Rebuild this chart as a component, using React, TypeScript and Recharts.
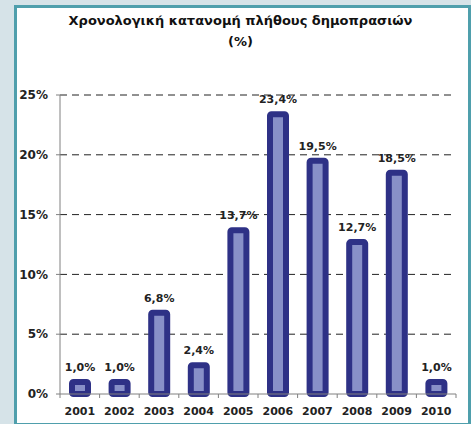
import React from "react";
import { BarChart, Bar, XAxis, YAxis, CartesianGrid, LabelList } from "recharts";

const years = ["2001", "2002", "2003", "2004", "2005", "2006", "2007", "2008", "2009", "2010"];
const shares = [1.0, 1.0, 6.8, 2.4, 13.7, 23.4, 19.5, 12.7, 18.5, 1.0];
const yTicks = [0, 5, 10, 15, 20, 25];
const titleLines = ["Χρονολογική κατανομή πλήθους δημοπρασιών", "(%)"];

const data = years.map((y, i) => ({ year: y, value: shares[i] }));

const FONT = "'DejaVu Sans', Verdana, sans-serif";

const XTick = (props: any) => {
  const { x, y, payload, index } = props;
  const half = payload && payload.offset ? payload.offset : 19.7;
  const axisY = y - 8;
  return (
    <g>
      <line x1={x - half} y1={axisY} x2={x - half} y2={axisY + 4} stroke="#808080" strokeWidth={1} />
      {index === years.length - 1 && (
        <line x1={x + half} y1={axisY} x2={x + half} y2={axisY + 4} stroke="#808080" strokeWidth={1} />
      )}
      <text x={x} y={y + 13} textAnchor="middle" fontFamily={FONT} fontWeight="bold" fontSize={11} fill="#222">
        {payload.value}
      </text>
    </g>
  );
};

const fmtLabel = (v: any) => `${Number(v).toFixed(1).replace(".", ",")}%`;

export default function App() {
  return (
    <div style={{ position: "absolute", left: 0, top: 0, width: 471, height: 424, background: "#d6e3e8" }}>
      <div
        style={{
          position: "absolute",
          left: 14,
          top: 5,
          width: 451,
          height: 415,
          background: "#ffffff",
          borderLeft: "3px solid #4f9fac",
          borderTop: "3px solid #4f9fac",
          borderRight: "3px solid #4f9fac",
          borderBottom: "2px solid #4f9fac",
        }}
      />
      <div
        style={{
          position: "absolute",
          left: 0,
          top: 10,
          width: 481,
          textAlign: "center",
          fontFamily: FONT,
          fontWeight: "bold",
          fontSize: 13,
          lineHeight: "21px",
          color: "#111",
        }}
      >
        {titleLines.map((t) => (
          <div key={t}>{t}</div>
        ))}
      </div>
      <div style={{ position: "absolute", left: 0, top: 0 }}>
        <BarChart
          width={471}
          height={424}
          data={data}
          margin={{ top: 95, right: 15, left: 0, bottom: 0 }}
          barCategoryGap={0}
        >
          <CartesianGrid
            vertical={false}
            stroke="#222"
            strokeDasharray="7 5"
            horizontalValues={[5, 10, 15, 20, 25]}
          />
          <XAxis
            dataKey="year"
            height={30}
            tickLine={false}
            axisLine={{ stroke: "#808080", strokeWidth: 1 }}
            tick={<XTick />}
            interval={0}
          />
          <YAxis
            width={60}
            domain={[0, 25]}
            ticks={yTicks}
            interval={0}
            tickFormatter={(v: any) => `${v}%`}
            axisLine={{ stroke: "#808080", strokeWidth: 1 }}
            tickLine={{ stroke: "#808080" }}
            tickSize={4}
            tickMargin={8}
            tick={{ fontFamily: FONT, fontWeight: "bold", fontSize: 12, fill: "#222" }}
          />
          <Bar
            dataKey="value"
            barSize={16}
            fill="#8890c8"
            stroke="#2e3186"
            strokeWidth={6}
            radius={1.5}
            isAnimationActive={false}
          >
            <LabelList
              dataKey="value"
              position="top"
              offset={11}
              formatter={fmtLabel}
              style={{ fontFamily: FONT, fontWeight: "bold", fontSize: 11, fill: "#222" }}
            />
          </Bar>
        </BarChart>
      </div>
    </div>
  );
}
